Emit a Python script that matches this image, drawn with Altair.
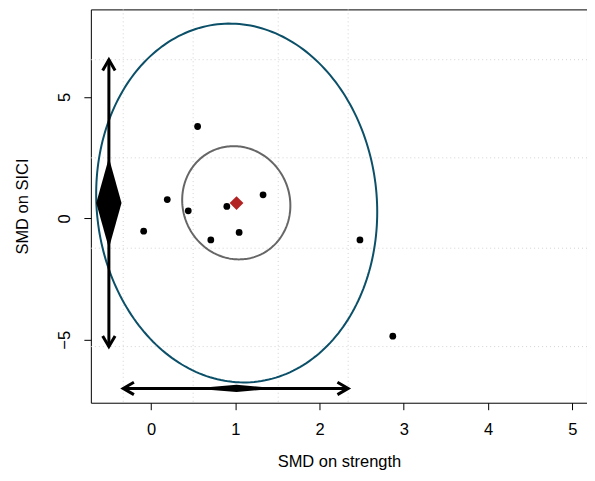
import altair as alt
import numpy as np
import pandas as pd

# ---- data ----
study_x = [0.553, 0.193, 0.442, 0.90, 1.33, -0.087, 0.71, 1.046, 2.48, 2.87]
study_y = [3.78, 0.77, 0.31, 0.49, 0.97, -0.53, -0.89, -0.58, -0.89, -4.85]

pooled_x = 1.015
pooled_y = 0.63

ci_x = [0.50, 1.51]      # confidence interval on strength
pi_x = [-0.33, 2.34]     # prediction interval on strength
ci_y = [-1.23, 2.49]     # confidence interval on SICI
pi_y = [-5.28, 6.53]     # prediction interval on SICI

# ellipse parameters (centre, half-axes, correlation)
conf_ell = dict(cx=1.012, cy=0.64, sx=0.642, sy=2.33, rho=-0.05)
pred_ell = dict(cx=1.017, cy=0.63, sx=1.668, sy=7.385, rho=-0.05)

x_ticks = [0, 1, 2, 3, 4, 5]
y_ticks = [-5, 0, 5]
x_domain = [-0.714, 5.175]
y_domain = [-7.59, 8.60]

# positions of the marginal summaries
vert_x = -0.5
horiz_y = -7.0
diamond_half = 0.15

FONT = "Liberation Sans"
FS = 16.5

xs = alt.Scale(domain=x_domain, nice=False, zero=False)
ys = alt.Scale(domain=y_domain, nice=False, zero=False)
xaxis = alt.Axis(values=x_ticks, title="SMD on strength", grid=False, domain=False,
                 tickSize=7, tickColor="black", labelColor="black", labelFontSize=FS,
                 labelFont=FONT, titleFont=FONT, titleFontSize=FS, titleFontWeight="normal",
                 titleColor="black", labelPadding=12, titlePadding=15, labelFlush=False)
yaxis = alt.Axis(values=y_ticks, title="SMD on SICI", grid=False, domain=False,
                 tickSize=7, tickColor="black", labelColor="black", labelFontSize=FS,
                 labelFont=FONT, titleFont=FONT, titleFontSize=FS, titleFontWeight="normal",
                 titleColor="black", labelAngle=270, labelAlign="center", labelBaseline="bottom",
                 labelPadding=11, titlePadding=26, labelFlush=False)


def X(f, **kw):
    return alt.X(f, type="quantitative", scale=xs, axis=xaxis, **kw)


def Y(f, **kw):
    return alt.Y(f, type="quantitative", scale=ys, axis=yaxis, **kw)


def ellipse(p, n=240):
    t = np.linspace(0, 2 * np.pi, n)
    th = np.arccos(p["rho"])
    return pd.DataFrame({
        "x": p["cx"] + p["sx"] * np.cos(t),
        "y": p["cy"] + p["sy"] * np.cos(t + th),
        "i": np.arange(n),
    })


grid_v = alt.Chart(pd.DataFrame({"x": pi_x + ci_x})).mark_rule(
    color="#D3D3D3", strokeDash=[1, 3], strokeWidth=1).encode(x=X("x"))
grid_h = alt.Chart(pd.DataFrame({"y": pi_y + ci_y})).mark_rule(
    color="#D3D3D3", strokeDash=[1, 3], strokeWidth=1).encode(y=Y("y"))

pred_line = alt.Chart(ellipse(pred_ell)).mark_line(color="#0B5068", strokeWidth=2).encode(
    x=X("x"), y=Y("y"), order="i:Q")
conf_line = alt.Chart(ellipse(conf_ell)).mark_line(color="#666666", strokeWidth=2).encode(
    x=X("x"), y=Y("y"), order="i:Q")

# vertical arrow (prediction interval on SICI)
v_rule = alt.Chart(pd.DataFrame({"x": [vert_x], "y": [pi_y[0]], "y2": [pi_y[1]]})).mark_rule(
    color="black", strokeWidth=3).encode(x=X("x"), y=Y("y"), y2="y2")
h_rule = alt.Chart(pd.DataFrame({"y": [horiz_y], "x": [pi_x[0]], "x2": [pi_x[1]]})).mark_rule(
    color="black", strokeWidth=3).encode(x=X("x"), x2="x2", y=Y("y"))

heads = pd.DataFrame({
    "x": [vert_x, vert_x, pi_x[0], pi_x[1]],
    "y": [pi_y[1], pi_y[0], horiz_y, horiz_y],
    "shape": ["M -0.58 1 L 0 0 L 0.58 1", "M -0.58 -1 L 0 0 L 0.58 -1",
              "M 1 -0.58 L 0 0 L 1 0.58", "M -1 -0.58 L 0 0 L -1 0.58"],
})
arrow_heads = alt.Chart(heads).mark_point(
    filled=False, color="black", strokeWidth=3, size=460, opacity=1).encode(
    x=X("x"), y=Y("y"), shape=alt.Shape("shape:N", scale=None))

v_dia = alt.Chart(pd.DataFrame({
    "y": [ci_y[1], pooled_y, ci_y[0]],
    "x": [vert_x, vert_x - diamond_half, vert_x],
    "x2": [vert_x, vert_x + diamond_half, vert_x],
})).mark_area(orient="horizontal", color="black", opacity=1).encode(
    y=Y("y"), x=X("x"), x2="x2")

h_dia = alt.Chart(pd.DataFrame({
    "x": [ci_x[0], pooled_x, ci_x[1]],
    "y": [horiz_y, horiz_y - diamond_half, horiz_y],
    "y2": [horiz_y, horiz_y + diamond_half, horiz_y],
})).mark_area(orient="vertical", color="black", opacity=1).encode(
    x=X("x"), y=Y("y"), y2="y2")

pts = alt.Chart(pd.DataFrame({"x": study_x, "y": study_y})).mark_circle(
    color="black", size=46, opacity=1).encode(x=X("x"), y=Y("y"))

pooled = alt.Chart(pd.DataFrame({"x": [pooled_x], "y": [pooled_y]})).mark_point(
    shape="diamond", filled=True, color="#B22222", size=190, opacity=1).encode(
    x=X("x"), y=Y("y"))

chart = alt.layer(
    grid_v, grid_h, pred_line, conf_line, v_rule, h_rule, arrow_heads, v_dia, h_dia, pts, pooled
).properties(
    width=497, height=394,
    autosize=alt.AutoSizeParams(type="none"),
    padding={"left": 83, "top": 1, "right": 0, "bottom": 70},
).configure(
    background="white",
    view=alt.ViewConfig(stroke="black", strokeWidth=1),
)

chart.save("out.html", embed_options={"renderer": "svg", "actions": False})
